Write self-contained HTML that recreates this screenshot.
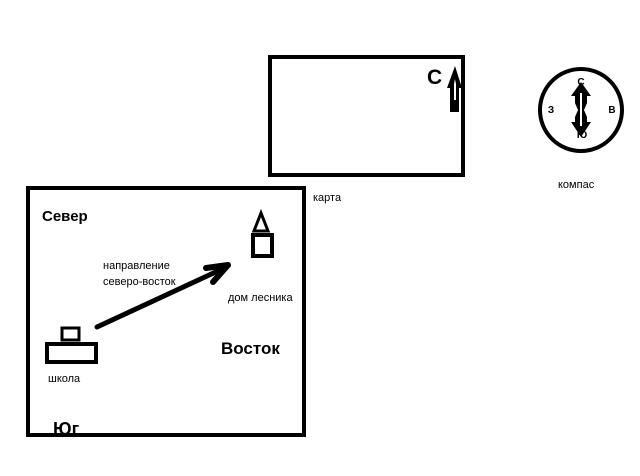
<!DOCTYPE html><html><head><meta charset="utf-8"><style>
body{margin:0;background:#fff;width:640px;height:476px;overflow:hidden}
</style></head><body>
<svg width="640" height="476" viewBox="0 0 640 476" style="position:absolute;left:0;top:0" font-family="Liberation Sans, DejaVu Sans, sans-serif">
<rect x="28" y="188" width="276" height="247" fill="none" stroke="#000" stroke-width="4"/>
<rect x="270" y="57" width="193" height="118" fill="none" stroke="#000" stroke-width="4"/>
<circle cx="581" cy="110" r="41" fill="none" stroke="#000" stroke-width="4"/>
<!-- map arrow -->
<path d="M450 112 V88 H447 L455 66 L462 88 H459 V112 Z" fill="#000"/>
<path d="M454 100 V84 L455 79 L456 84 V100 Z" fill="#fff"/>
<text x="427" y="84" font-size="21" font-weight="bold">С</text>
<!-- compass arrow -->
<path d="M581 82 L591 96 H587 V103 L584 110 L587 117 V122 H591 L581 137 L571 122 H575 V117 L578 110 L575 103 V96 H571 Z" fill="#000"/>
<path d="M580 93 H582 V126 H580 Z" fill="#fff"/>
<text x="581" y="85" font-size="10" font-weight="bold" text-anchor="middle">С</text>
<text x="551" y="113" font-size="10" font-weight="bold" text-anchor="middle">З</text>
<text x="612" y="113" font-size="10" font-weight="bold" text-anchor="middle">В</text>
<text x="582" y="138" font-size="10" font-weight="bold" text-anchor="middle">Ю</text>
<text x="313" y="201" font-size="11">карта</text>
<text x="558" y="188" font-size="11">компас</text>
<!-- school -->
<rect x="62" y="328" width="17" height="12" fill="none" stroke="#000" stroke-width="3"/>
<rect x="47" y="344" width="49" height="18" fill="none" stroke="#000" stroke-width="4"/>
<!-- house -->
<path d="M261 213 L254 231 H268 Z" fill="none" stroke="#000" stroke-width="3"/>
<rect x="253" y="235" width="19" height="21" fill="none" stroke="#000" stroke-width="4"/>
<!-- arrow -->
<line x1="97" y1="327" x2="220" y2="270" stroke="#000" stroke-width="5" stroke-linecap="round"/>
<path d="M228 265 L206 268 M228 265 L213 282" stroke="#000" stroke-width="6" stroke-linecap="round" fill="none"/>
<text x="42" y="221" font-size="15" font-weight="bold">Север</text>
<text x="221" y="354" font-size="17" font-weight="bold">Восток</text>
<text x="53" y="435" font-size="18" font-weight="bold">Юг</text>
<text x="48" y="382" font-size="11">школа</text>
<text x="103" y="269" font-size="11">направление</text>
<text x="103" y="285" font-size="11">северо-восток</text>
<text x="228" y="301" font-size="11">дом лесника</text>
</svg>
</body></html>
